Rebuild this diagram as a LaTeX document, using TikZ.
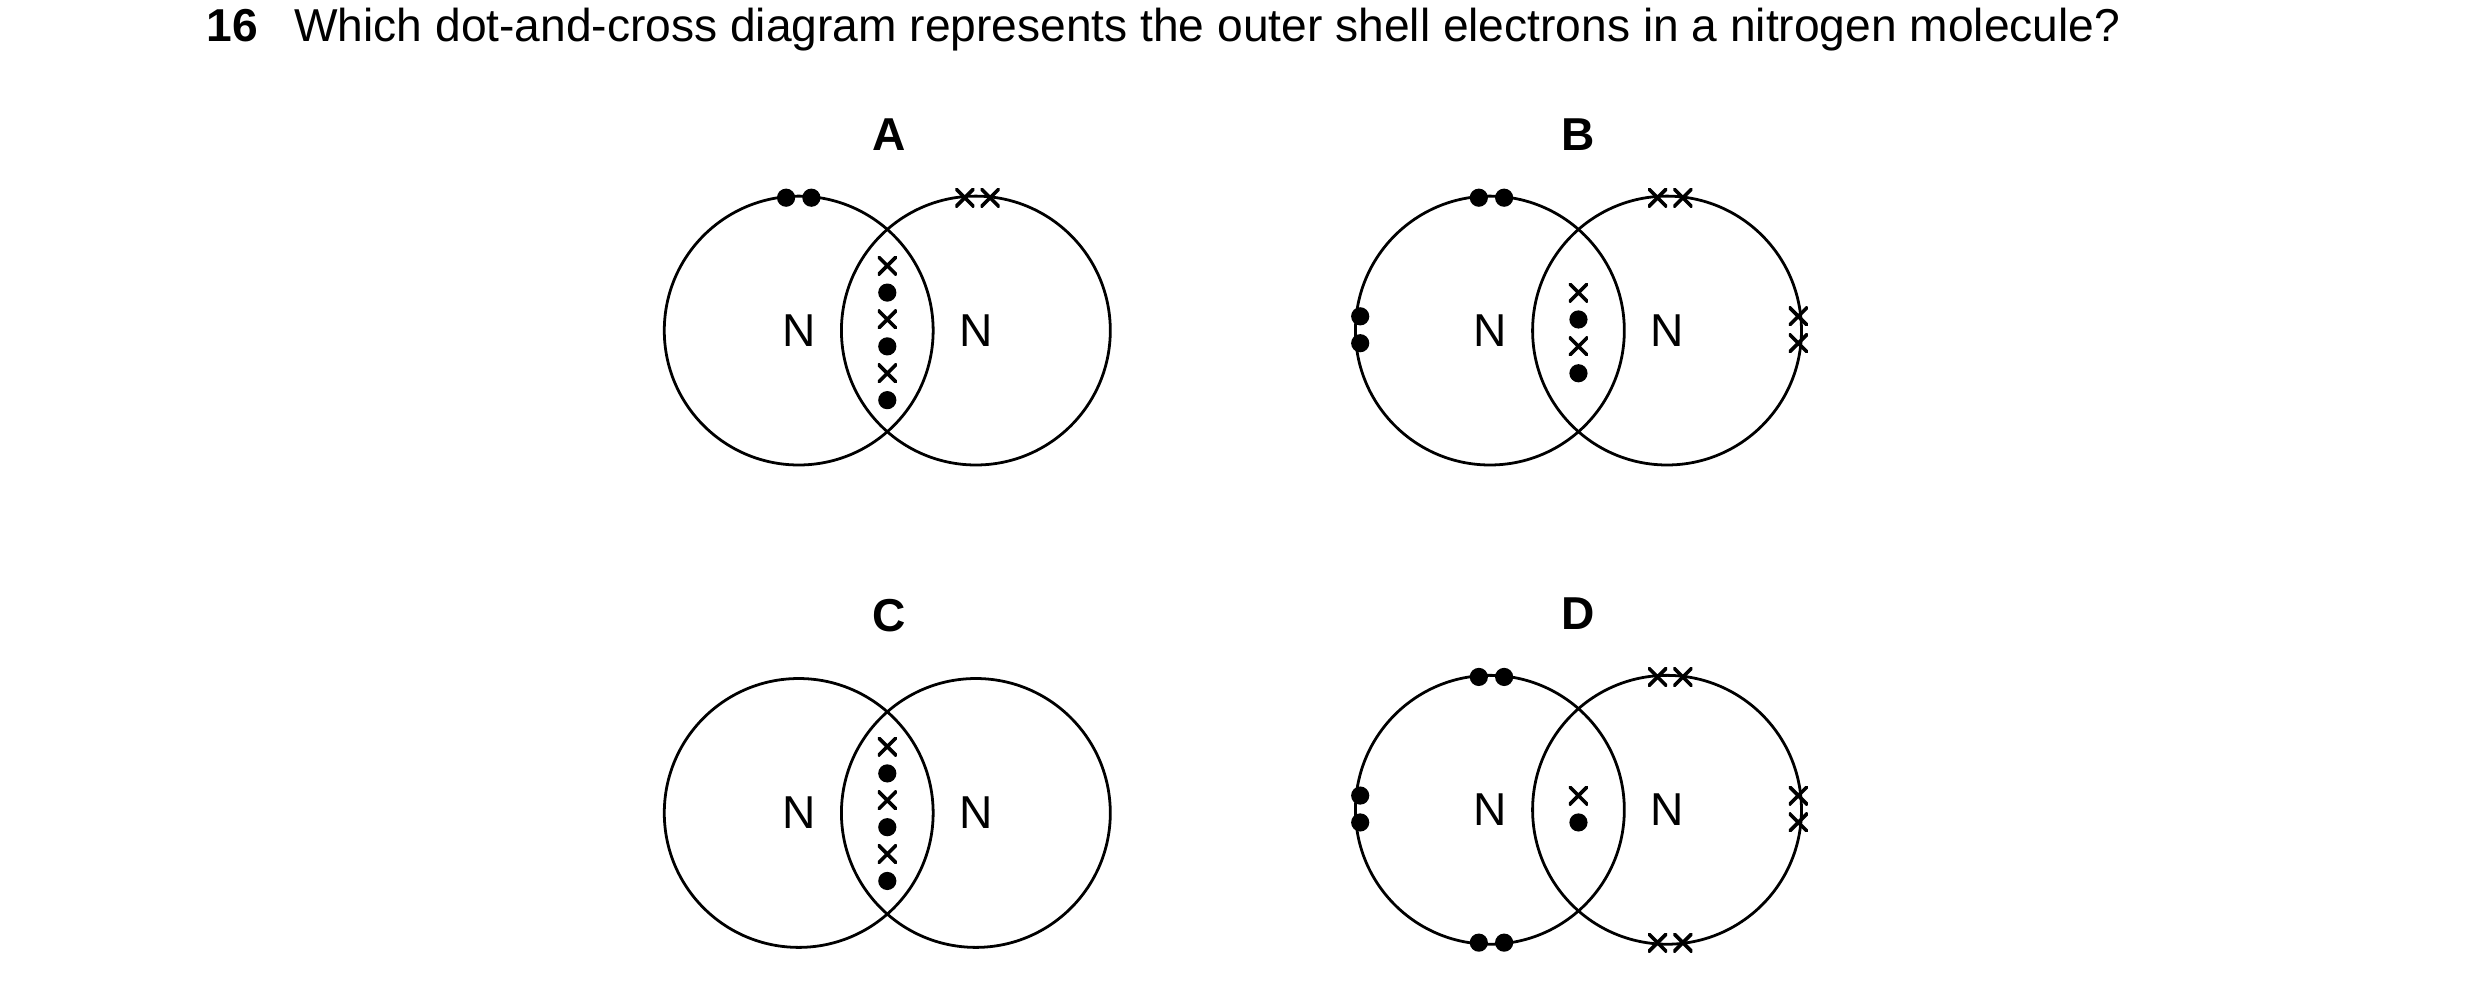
\documentclass[tikz,border=0pt]{standalone}
\usepackage{fontspec}
\setmainfont{Liberation Sans}
\begin{document}
\begin{tikzpicture}[x=0.1mm,y=-0.1mm,
  shell/.style={draw,circle,line width=0.5pt,minimum size=17mm,inner sep=0pt},
  lbl/.style={font=\fontsize{8.3}{10}\selectfont},
  hd/.style={font=\fontsize{8.3}{10}\selectfont\bfseries},
  dt/.style={fill,circle,inner sep=0pt,minimum size=1.15mm},
  cr/.style={inner sep=0pt,minimum size=1.2mm,path picture={
      \draw[line width=0.65pt] (path picture bounding box.north west) -- (path picture bounding box.south east)
        (path picture bounding box.north east) -- (path picture bounding box.south west);}}]
\useasboundingbox (0,0) rectangle (1568,627.8);
\node[lbl,anchor=west,inner sep=0pt] (q) at (130,19) {\textbf{16}\hspace{2.3mm}Which dot-and-cross diagram represents the outer shell electrons in a nitrogen molecule?};
% A
\node[hd] (ta) at (562,85) {A};
\node[shell] (a1) at (505,209) {}; \node[shell] (a2) at (617,209) {};
\node[lbl] (na1) at (505,209) {N}; \node[lbl] (na2) at (617,209) {N};
\foreach \x in {497,513} \node[dt] at (\x,125) {};
\foreach \x in {610,626} \node[cr] at (\x,125) {};
\foreach \y in {168,202,236} \node[cr] at (561,\y) {};
\foreach \y in {185,219,253} \node[dt] at (561,\y) {};
% B
\node[hd] (tb) at (998,85) {B};
\node[shell] (b1) at (942,209) {}; \node[shell] (b2) at (1054,209) {};
\node[lbl] (nb1) at (942,209) {N}; \node[lbl] (nb2) at (1054,209) {N};
\foreach \x in {935,951} \node[dt] at (\x,125) {};
\foreach \x in {1048,1064} \node[cr] at (\x,125) {};
\foreach \y in {200,217} {\node[dt] at (860,\y) {}; \node[cr] at (1137,\y) {};}
\foreach \y in {185,219} \node[cr] at (998,\y) {};
\foreach \y in {202,236} \node[dt] at (998,\y) {};
% C
\node[hd] (tc) at (562,389) {C};
\node[shell] (c1) at (505,514) {}; \node[shell] (c2) at (617,514) {};
\node[lbl] (nc1) at (505,514) {N}; \node[lbl] (nc2) at (617,514) {N};
\foreach \y in {472,506,540} \node[cr] at (561,\y) {};
\foreach \y in {489,523,557} \node[dt] at (561,\y) {};
% D
\node[hd] (td) at (998,388) {D};
\node[shell] (d1) at (942,512) {}; \node[shell] (d2) at (1054,512) {};
\node[lbl] (nd1) at (942,512) {N}; \node[lbl] (nd2) at (1054,512) {N};
\foreach \x in {935,951} {\node[dt] at (\x,428) {}; \node[dt] at (\x,596) {};}
\foreach \x in {1048,1064} {\node[cr] at (\x,428) {}; \node[cr] at (\x,596) {};}
\foreach \y in {503,520} {\node[dt] at (860,\y) {}; \node[cr] at (1137,\y) {};}
\node[cr] at (998,503) {}; \node[dt] at (998,520) {};
\end{tikzpicture}
\end{document}
